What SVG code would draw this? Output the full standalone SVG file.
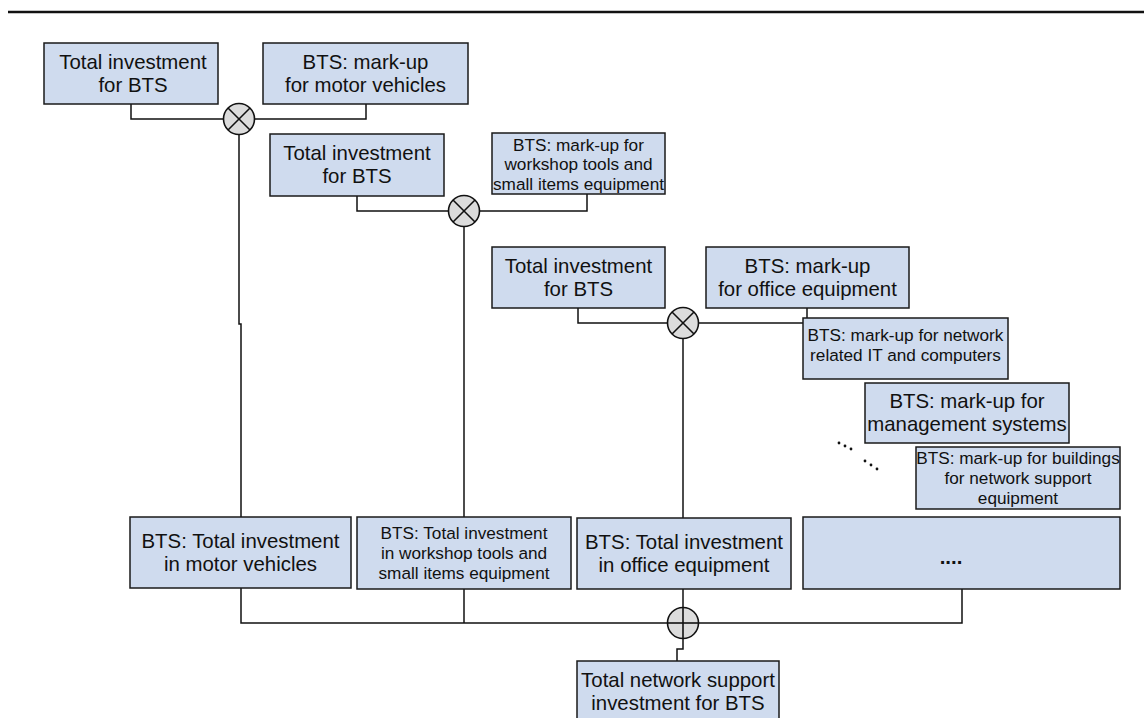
<svg xmlns="http://www.w3.org/2000/svg" width="1144" height="718" viewBox="0 0 1144 718">
  <style>
    .box { fill: #cfdbee; stroke: #1a1a1a; stroke-width: 1.5; }
    .t20 { font-family: "Liberation Sans", Arial, sans-serif; font-size: 20.4px; fill: #111; text-anchor: middle; }
    .t17 { font-family: "Liberation Sans", Arial, sans-serif; font-size: 17.2px; fill: #111; text-anchor: middle; }
    .wire { fill: none; stroke: #111; stroke-width: 1.5; }
    .op { fill: #dcdcdc; stroke: #111; stroke-width: 1.6; }
    .sign { stroke: #111; stroke-width: 1.6; }
  </style>
  <defs>
    <!-- multiply operator: circle with a cross -->
    <g id="mul">
      <circle class="op" cx="0" cy="0" r="15.5"/>
      <line class="sign" x1="-11" y1="-11" x2="11" y2="11"/>
      <line class="sign" x1="-11" y1="11" x2="11" y2="-11"/>
    </g>
    <!-- sum operator: circle with a plus -->
    <g id="add">
      <circle class="op" cx="0" cy="0" r="15.5"/>
      <line class="sign" x1="-15.5" y1="0" x2="15.5" y2="0"/>
      <line class="sign" x1="0" y1="-15.5" x2="0" y2="15.5"/>
    </g>
  </defs>

  <rect width="1144" height="718" fill="#fff"/>
  <line x1="8" y1="12" x2="1144" y2="12" stroke="#111" stroke-width="2.5"/>

  <g id="connectors">
    <path class="wire" d="M131,104 V119 H223.5"/>
    <path class="wire" d="M254.5,119 H366 V104"/>
    <path class="wire" d="M239,134.5 V324 H241 V517"/>
    <path class="wire" d="M357,196 V211 H448.5"/>
    <path class="wire" d="M479.5,211 H587 V194"/>
    <path class="wire" d="M464,226.5 V517"/>
    <path class="wire" d="M578,308 V323 H667.5"/>
    <path class="wire" d="M698.5,323 H803"/>
    <path class="wire" d="M807,308 V318"/>
    <path class="wire" d="M683,338.5 V518"/>
    <path class="wire" d="M241,588 V623 H667.5"/>
    <path class="wire" d="M464,589 V623"/>
    <path class="wire" d="M683,589 V607.5"/>
    <path class="wire" d="M962,589 V623 H698.5"/>
    <path class="wire" d="M683,638.5 V649 H677 V661"/>
  </g>

  <g id="op-mul-1"><use href="#mul" x="239" y="119"/></g>
  <g id="op-mul-2"><use href="#mul" x="464" y="211"/></g>
  <g id="op-mul-3"><use href="#mul" x="683" y="323"/></g>
  <g id="op-sum"><use href="#add" x="683" y="623"/></g>

  <g id="n-invest-1">
    <rect class="box" x="44" y="43" width="174" height="61"/>
    <text class="t20" x="133" y="69">Total investment<tspan x="133" y="92">for BTS</tspan></text>
  </g>
  <g id="n-markup-vehicles">
    <rect class="box" x="263" y="43" width="205" height="61"/>
    <text class="t20" x="365.5" y="69">BTS: mark-up<tspan x="365.5" y="92">for motor vehicles</tspan></text>
  </g>
  <g id="n-invest-2">
    <rect class="box" x="270" y="134" width="174" height="62"/>
    <text class="t20" x="357" y="160">Total investment<tspan x="357" y="183">for BTS</tspan></text>
  </g>
  <g id="n-markup-tools">
    <rect class="box" x="492" y="133" width="173" height="61"/>
    <text class="t17" x="578.5" y="150.5">BTS: mark-up for<tspan x="578.5" y="170">workshop tools and</tspan><tspan x="578.5" y="189.5">small items equipment</tspan></text>
  </g>
  <g id="n-invest-3">
    <rect class="box" x="492" y="247" width="173" height="61"/>
    <text class="t20" x="578.5" y="273">Total investment<tspan x="578.5" y="296">for BTS</tspan></text>
  </g>
  <g id="n-markup-office">
    <rect class="box" x="706" y="247" width="203" height="61"/>
    <text class="t20" x="807.5" y="273">BTS: mark-up<tspan x="807.5" y="296">for office equipment</tspan></text>
  </g>
  <g id="n-markup-it">
    <rect class="box" x="803" y="318" width="205" height="61"/>
    <text class="t17" x="905.5" y="341">BTS: mark-up for network<tspan x="905.5" y="361">related IT and computers</tspan></text>
  </g>
  <g id="n-markup-mgmt">
    <rect class="box" x="865" y="383" width="204" height="60"/>
    <text class="t20" x="967" y="408">BTS: mark-up for<tspan x="967" y="431">management systems</tspan></text>
  </g>
  <g id="n-markup-buildings">
    <rect class="box" x="916" y="447" width="204" height="62"/>
    <text class="t17" x="1018" y="464">BTS: mark-up for buildings<tspan x="1018" y="484">for network support</tspan><tspan x="1018" y="504">equipment</tspan></text>
  </g>

  <g id="ellipsis-dots" fill="#111">
    <circle cx="839" cy="443" r="1.4"/>
    <circle cx="845" cy="446" r="1.4"/>
    <circle cx="851" cy="449" r="1.4"/>
    <circle cx="865" cy="461" r="1.4"/>
    <circle cx="871" cy="465" r="1.4"/>
    <circle cx="877" cy="469" r="1.4"/>
  </g>

  <g id="n-total-vehicles">
    <rect class="box" x="130" y="517" width="221" height="71"/>
    <text class="t20" x="240.5" y="548">BTS: Total investment<tspan x="240.5" y="571">in motor vehicles</tspan></text>
  </g>
  <g id="n-total-tools">
    <rect class="box" x="357" y="517" width="214" height="72"/>
    <text class="t17" x="464" y="539">BTS: Total investment<tspan x="464" y="559">in workshop tools and</tspan><tspan x="464" y="579">small items equipment</tspan></text>
  </g>
  <g id="n-total-office">
    <rect class="box" x="577" y="518" width="214" height="71"/>
    <text class="t20" x="684" y="549">BTS: Total investment<tspan x="684" y="572">in office equipment</tspan></text>
  </g>
  <g id="n-total-more">
    <rect class="box" x="803" y="517" width="317" height="72"/>
    <text class="t20" x="951" y="564" font-weight="bold">....</text>
  </g>
  <g id="n-network-total">
    <rect class="box" x="577" y="661" width="202" height="62"/>
    <text class="t20" x="678" y="687">Total network support<tspan x="678" y="710">investment for BTS</tspan></text>
  </g>
</svg>
